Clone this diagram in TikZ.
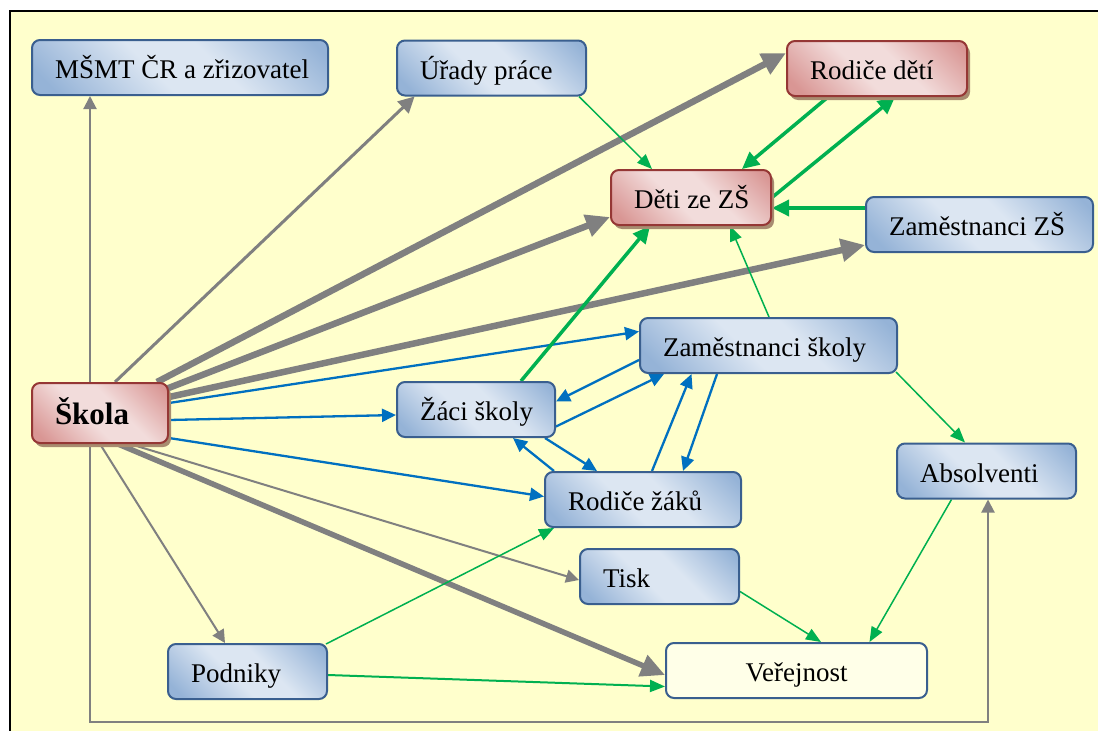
\documentclass[tikz,border=0pt]{standalone}
\usepackage{fontspec}
\setmainfont{Liberation Serif}
\usetikzlibrary{arrows.meta,shadows}

\definecolor{paper}{HTML}{FFFFCC}
\definecolor{bluelight}{HTML}{DCE6F2}
\definecolor{bluedark}{HTML}{95B3D7}
\definecolor{blueline}{HTML}{3A5F8F}
\definecolor{redlight}{HTML}{F2DCDB}
\definecolor{reddark}{HTML}{D99694}
\definecolor{redline}{HTML}{953735}
\definecolor{shadowtan}{HTML}{A88C70}
\definecolor{linkgray}{HTML}{808080}
\definecolor{linkblue}{HTML}{0070C0}
\definecolor{linkgreen}{HTML}{00B050}
\definecolor{publicfill}{HTML}{FFFFE8}

% bevel-like fills: dark corners, light diagonal band
\pgfdeclarehorizontalshading{bluebevel}{100bp}{color(0bp)=(bluedark); color(20bp)=(bluedark); color(44bp)=(bluelight); color(58bp)=(bluelight); color(82bp)=(bluedark); color(100bp)=(bluedark)}
\pgfdeclarehorizontalshading{redbevel}{100bp}{color(0bp)=(reddark); color(20bp)=(reddark); color(44bp)=(redlight); color(58bp)=(redlight); color(82bp)=(reddark); color(100bp)=(reddark)}

\pgfdeclarelayer{paperlayer}
\pgfdeclarelayer{links}
\pgfsetlayers{paperlayer,links,main}

\newcommand\cardtext[2]{\makebox[#1][l]{#2}}

\tikzset{
  card/.style={rounded corners=8pt, line width=2pt, minimum height=55pt,
    inner xsep=23pt, inner ysep=0pt, text height=26pt, text depth=4pt,
    font=\fontsize{27}{30}\selectfont},
  bluecard/.style={card, draw=blueline, shading=bluebevel, shading angle=45},
  redcard/.style={card, draw=redline, shading=redbevel, shading angle=45,
    drop shadow={shadow xshift=3pt, shadow yshift=-4pt, fill=shadowtan, opacity=1}},
  plaincard/.style={card, draw=blueline, fill=publicfill},
  gthin/.style={draw=linkgray, line width=2pt, -{Triangle[length=13pt,width=13pt]}},
  gmid/.style={draw=linkgray, line width=3pt, -{Triangle[length=16pt,width=16pt]}},
  gthick/.style={draw=linkgray, line width=6.5pt, -{Triangle[length=24pt,width=22pt]}},
  bl/.style={draw=linkblue, line width=2.3pt, -{Triangle[length=14pt,width=13pt]}},
  grthin/.style={draw=linkgreen, line width=1.5pt, -{Triangle[length=15pt,width=12pt]}},
  grthick/.style={draw=linkgreen, line width=3.5pt, -{Triangle[length=17pt,width=16pt]}},
}

\begin{document}
\begin{tikzpicture}[x=1pt,y=-1pt]
\useasboundingbox (0,0) rectangle (1098,731);

\begin{pgfonlayer}{paperlayer}
  \fill[white] (0,0) rectangle (1098,731);
  \fill[paper] (10,11) rectangle (1098,731);
  \draw[line width=2pt] (10,731) -- (10,11) -- (1098,11);
\end{pgfonlayer}

% boxes
\node[bluecard] (msmt) at (180,67.5) {\cardtext{250pt}{MŠMT ČR a zřizovatel}};
\node[bluecard] (urady) at (491.5,68) {\cardtext{143pt}{Úřady práce}};
\node[redcard] (rodiced) at (877,68.5) {\cardtext{134pt}{Rodiče dětí}};
\node[redcard] (deti) at (691,197.5) {\cardtext{114pt}{Děti ze ZŠ}};
\node[bluecard] (zamzs) at (979.5,224.5) {\cardtext{181pt}{Zaměstnanci ZŠ}};
\node[bluecard] (zamsk) at (768.5,345.5) {\cardtext{211pt}{Zaměstnanci školy}};
\node[redcard, minimum height=60pt, font=\fontsize{31}{34}\selectfont\bfseries] (skola) at (100,413) {\cardtext{90pt}{Škola}};
\node[bluecard] (zaci) at (476,409.5) {\cardtext{112pt}{Žáci školy}};
\node[bluecard] (absol) at (986.5,471) {\cardtext{133pt}{Absolventi}};
\node[bluecard] (rodicez) at (643,499.5) {\cardtext{150pt}{Rodiče žáků}};
\node[bluecard] (tisk) at (659.5,576.5) {\cardtext{113pt}{Tisk}};
\node[bluecard] (podniky) at (247.5,671.5) {\cardtext{113pt}{Podniky}};
\node[plaincard, minimum width=261pt] (verej) at (796.5,670.5) {Veřejnost};

\coordinate (bottomrun) at (0,722);

\begin{pgfonlayer}{links}
  % links leaving the school
  \draw[gthin] ([xshift=-10pt]skola.north) -- ([xshift=-90pt]msmt.south);
  \draw[gmid] ([xshift=15pt]skola.north) -- ([xshift=-77pt]urady.south);
  \draw[gthick] ([xshift=57pt]skola.north) -- ([yshift=15.5pt]rodiced.west);
  \draw[gthick] ([xshift=-3pt,yshift=-7pt]skola.north east) -- ([yshift=-19.5pt]deti.west);
  \draw[gthick] ([yshift=-15pt]skola.north east) -- ([yshift=-20.5pt]zamzs.west);
  \draw[gthick, line width=5.5pt] ([xshift=18pt]skola.south) -- ([yshift=-4.5pt]verej.west);
  \draw[gthin] ([xshift=30pt]skola.south) -- ([yshift=-3.5pt]tisk.west);
  \draw[gthin] (skola.south) -- ([xshift=-22.5pt]podniky.north);
  \draw[gthin] ([xshift=-10pt]skola.south) -- ([xshift=-10pt]skola.south |- bottomrun)
    -| ([xshift=1.5pt]absol.south);
  \draw[bl] ([yshift=10pt]skola.east) -- ([yshift=14pt]zamsk.west);
  \draw[bl] ([yshift=-7pt]skola.east) -- ([yshift=-5.5pt]zaci.west);
  \draw[bl] ([yshift=-25pt]skola.east) -- ([yshift=3pt]rodicez.west);

  % pupils, parents and staff
  \draw[bl] ([yshift=-14.5pt]zamsk.west) -- ([yshift=8pt]zaci.east);
  \draw[bl] ([yshift=-17pt]zaci.east) -- ([xshift=-104.5pt]zamsk.south);
  \draw[bl] ([xshift=69pt]zaci.south) -- ([xshift=-46pt]rodicez.north);
  \draw[bl] ([xshift=-89pt]rodicez.north) -- ([xshift=37pt]zaci.south);
  \draw[bl] ([xshift=9pt]rodicez.north) -- ([xshift=-77pt]zamsk.south);
  \draw[bl] ([xshift=-51.5pt]zamsk.south) -- ([xshift=40pt]rodicez.north);

  % green links
  \draw[grthin] ([xshift=87.5pt]urady.south) -- ([xshift=-39pt]deti.north);
  \draw[grthick] ([xshift=-49pt]rodiced.south) -- ([xshift=51pt]deti.north);
  \draw[grthick] (deti.east) -- ([xshift=18pt]rodiced.south);
  \draw[grthick] ([yshift=16.5pt]zamzs.west) -- ([yshift=-10.5pt]deti.east);
  \draw[grthick] ([xshift=45pt]zaci.north) -- ([xshift=-41pt]deti.south);
  \draw[grthin] ([xshift=0.5pt]zamsk.north) -- ([xshift=39pt]deti.south);
  \draw[grthin] ([xshift=-2pt,yshift=2pt]zamsk.south east) -- ([xshift=-21.5pt]absol.north);
  \draw[grthin] ([xshift=-35pt]absol.south) -- ([xshift=73pt]verej.north);
  \draw[grthin] ([yshift=-15pt]tisk.east) -- ([xshift=24.5pt]verej.north);
  \draw[grthin] ([xshift=-2pt,yshift=-1pt]podniky.north east) -- ([xshift=-89pt]rodicez.south);
  \draw[grthin, line width=2pt] ([yshift=-3.5pt]podniky.east) -- ([yshift=-16pt]verej.west);
\end{pgfonlayer}
\end{tikzpicture}
\end{document}
